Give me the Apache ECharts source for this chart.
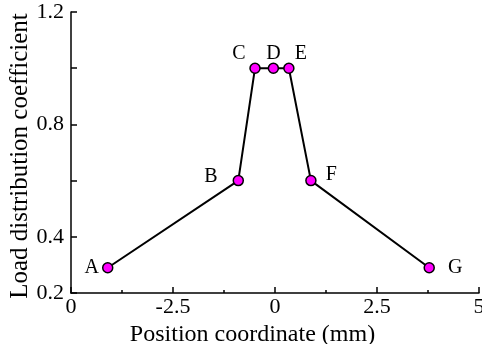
<!DOCTYPE html>
<html><head><meta charset="utf-8">
<script src="https://cdn.jsdelivr.net/npm/echarts@6/dist/echarts.min.js"></script>
<style>html,body{margin:0;padding:0;background:#fff}#c{width:482px;height:344px}</style>
</head><body><div id="c"></div>
<script>
var pointNames = ["A","B","C","D","E","F","G"];
var xValues = [-4.1, -0.9, -0.49, -0.04, 0.34, 0.88, 3.78];
var yValues = [0.29, 0.6, 1.0, 1.0, 1.0, 0.6, 0.29];
var xTickLabels = ["0","-2.5","0","2.5","5"];
var xTickValues = [-5, -2.5, 0, 2.5, 5];
var yShownLabels = [0.2, 0.4, 0.8, 1.2];

var FONT = "Liberation Serif";
var labelPos = {A:"left",B:"left",C:"top",D:"top",E:"top",F:"right",G:"right"};
var labelOff = {A:[1,0],B:[-11,-4],C:[-16,5],D:[0,5],E:[12,5],F:[5,-6],G:[9,0]};

var data = pointNames.map(function(n,i){
  return {value:[xValues[i], yValues[i]], name:n,
    label:{show:true, formatter:n, position:labelPos[n], offset:labelOff[n], distance:4}};
});

var chart = echarts.init(document.getElementById('c'), null, {renderer:'canvas'});
chart.setOption({
  animation:false,
  grid:{left:71, right:3, top:12, bottom:51, containLabel:false, outerBoundsMode:'none'},
  xAxis:{type:'value', min:-5, max:5, interval:2.5,
    name:'Position coordinate (mm)', nameLocation:'middle', nameGap:24,
    nameTextStyle:{fontFamily:FONT, fontSize:24, color:'#000', padding:[0,45,0,0]},
    axisLine:{onZero:false, lineStyle:{color:'#000', width:1.5}},
    axisTick:{inside:true, length:6, lineStyle:{color:'#000', width:1.5}},
    minorTick:{show:true, splitNumber:2, length:3, lineStyle:{color:'#000', width:1.5}},
    splitLine:{show:false},
    axisLabel:{fontFamily:FONT, fontSize:22, color:'#000', margin:3, showMaxLabel:true, showMinLabel:true,
      formatter:function(v){ for(var i=0;i<xTickValues.length;i++){ if(Math.abs(v-xTickValues[i])<1e-6) return xTickLabels[i]; } return ''; }}
  },
  yAxis:{type:'value', min:0.2, max:1.2, interval:0.2,
    name:'Load distribution coefficient', nameLocation:'middle', nameGap:38, nameMoveOverlap:false,
    nameTextStyle:{fontFamily:FONT, fontSize:25, color:'#000', padding:[0,7,0,0]},
    axisLine:{show:true, onZero:false, lineStyle:{color:'#000', width:1.5}},
    axisTick:{show:true, inside:true, length:6, lineStyle:{color:'#000', width:1.5}},
    splitLine:{show:false},
    axisLabel:{fontFamily:FONT, fontSize:22, color:'#000', margin:7,
      formatter:function(v){ for(var i=0;i<yShownLabels.length;i++){ if(Math.abs(v-yShownLabels[i])<1e-6) return yShownLabels[i].toFixed(1); } return ''; }}
  },
  series:[{type:'line', data:data, symbol:'circle', symbolSize:10,
    lineStyle:{color:'#000', width:2},
    itemStyle:{color:'#ff00ff', borderColor:'#000', borderWidth:1.5},
    label:{fontFamily:FONT, fontSize:20, color:'#000'}
  }]
});
</script></body></html>
